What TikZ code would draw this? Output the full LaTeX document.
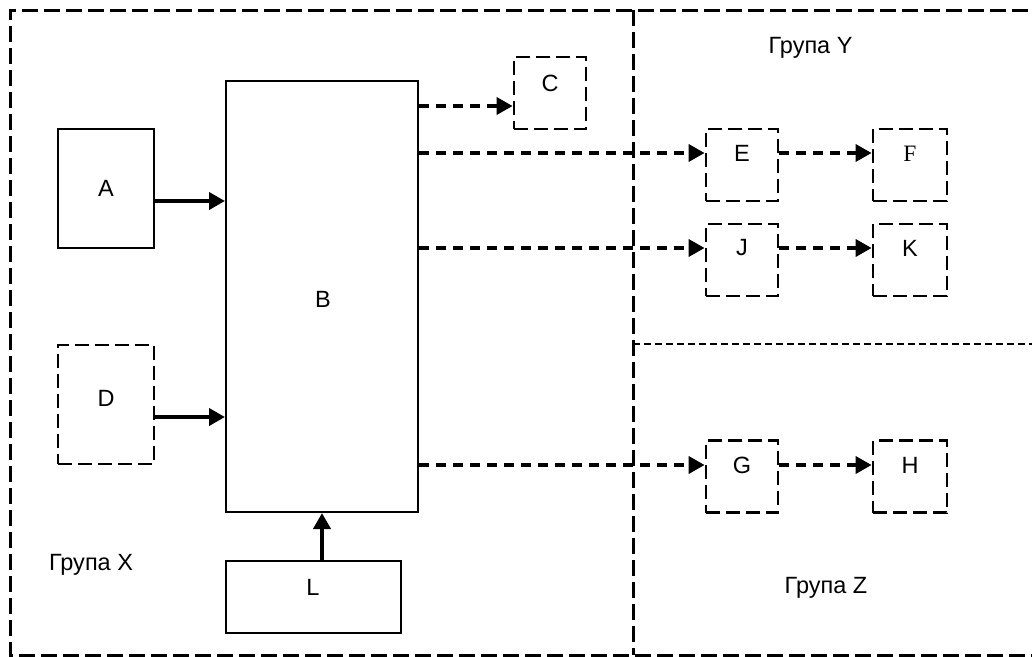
\documentclass[tikz,border=0pt]{standalone}
\usepackage{fontspec}
\setmainfont{Liberation Sans}
\newfontfamily\serifF{Liberation Serif}
\usetikzlibrary{arrows.meta}
\tikzset{
  frameline/.style={line width=3pt, dash pattern=on 16pt off 6pt},
  zoneline/.style={line width=2.4pt, dash pattern=on 7pt off 4pt},
  solidbox/.style={draw, line width=2pt, inner sep=0pt},
  dbox/.style={draw, line width=2.8pt, dash pattern=on 14pt off 6pt, inner sep=0pt},
  sq/.style={minimum width=72pt, minimum height=72pt},
  lbl/.style={font=\fontsize{23.5}{28}\selectfont, inner sep=0pt},
  sarrow/.style={line width=3.8pt, -{Triangle[length=16pt,width=17pt]}},
  darrow/.style={line width=3.6pt, dash pattern=on 10pt off 7pt, -{Triangle[length=16pt,width=17pt]}}
}
\begin{document}
\begin{tikzpicture}[x=1pt,y=-1pt]
\clip (0,0) rectangle (1032,656);
\fill[white] (0,0) rectangle (1032,656);
% frame
\coordinate (tl) at (10,10);
\coordinate (bl) at (10,655);
\coordinate (tr) at (1050,10);
\coordinate (br) at (1050,655);
\coordinate (vt) at (633,10);
\coordinate (vb) at (633,655);
\coordinate (hl) at (633,344);
\coordinate (hr) at (1050,344);
\draw[frameline] (tr) -- (tl) -- (bl) -- (br);
\draw[frameline] (vt) -- (vb);
\draw[zoneline] (hl) -- (hr);
% boxes
\node[solidbox, minimum width=96pt, minimum height=119pt] (A) at (106,188.5) {};
\node[solidbox, minimum width=192pt, minimum height=431pt] (B) at (322,296.5) {};
\node[dbox, sq] (C) at (550,93) {};
\node[dbox, minimum width=96pt, minimum height=119pt] (D) at (106,404.5) {};
\node[solidbox, minimum width=175pt, minimum height=72pt] (L) at (313.5,597) {};
\node[dbox, sq] (E) at (742,165) {};
\node[dbox, sq, minimum width=74pt] (F) at (910,165) {};
\node[dbox, sq] (J) at (742,260) {};
\node[dbox, sq, minimum width=74pt] (K) at (910,260) {};
\node[dbox, sq] (G) at (742,476.5) {};
\node[dbox, sq, minimum width=74pt] (H) at (910,476.5) {};
% labels
\node[lbl] (At) at (106,188) {A};
\node[lbl] (Bt) at (323,299) {B};
\node[lbl] (Ct) at (550,83) {C};
\node[lbl] (Dt) at (106,398) {D};
\node[lbl] (Lt) at (313,587) {L};
\node[lbl] (Et) at (742,153) {E};
\node[lbl, font=\serifF\fontsize{23.5}{28}\selectfont] (Ft) at (910,154) {F};
\node[lbl] (Jt) at (742,248) {J};
\node[lbl] (Kt) at (910,248) {K};
\node[lbl] (Gt) at (742,465) {G};
\node[lbl] (Ht) at (910,465) {H};
\node[lbl, anchor=base] (gx) at (91,570.7) {Група X};
\node[lbl, anchor=base] (gy) at (810.5,53.3) {Група Y};
\node[lbl, anchor=base] (gz) at (826,593.3) {Група Z};
% connector points
\coordinate (a1) at ([yshift=-12.5pt]A.east);
\coordinate (d1) at ([yshift=-12.5pt]D.east);
\coordinate (l1) at ([xshift=8.5pt]L.north);
\coordinate (c1) at ([yshift=-13pt]C.west);
\coordinate (e1) at ([yshift=12pt]E.west);
\coordinate (e2) at ([yshift=12pt]E.east);
\coordinate (j1) at ([yshift=12pt]J.west);
\coordinate (j2) at ([yshift=12pt]J.east);
\coordinate (g1) at ([yshift=11.5pt]G.west);
\coordinate (g2) at ([yshift=11.5pt]G.east);
% connectors
\draw[sarrow] (a1) -- (a1 -| B.west);
\draw[sarrow] (d1) -- (d1 -| B.west);
\draw[sarrow] (l1) -- (l1 |- B.south);
\draw[darrow] (c1 -| B.east) -- (c1);
\draw[darrow] (e1 -| B.east) -- (e1);
\draw[darrow] (j1 -| B.east) -- (j1);
\draw[darrow] (g1 -| B.east) -- (g1);
\draw[darrow] (e2) -- (e2 -| F.west);
\draw[darrow] (j2) -- (j2 -| K.west);
\draw[darrow] (g2) -- (g2 -| H.west);
\end{tikzpicture}
\end{document}
